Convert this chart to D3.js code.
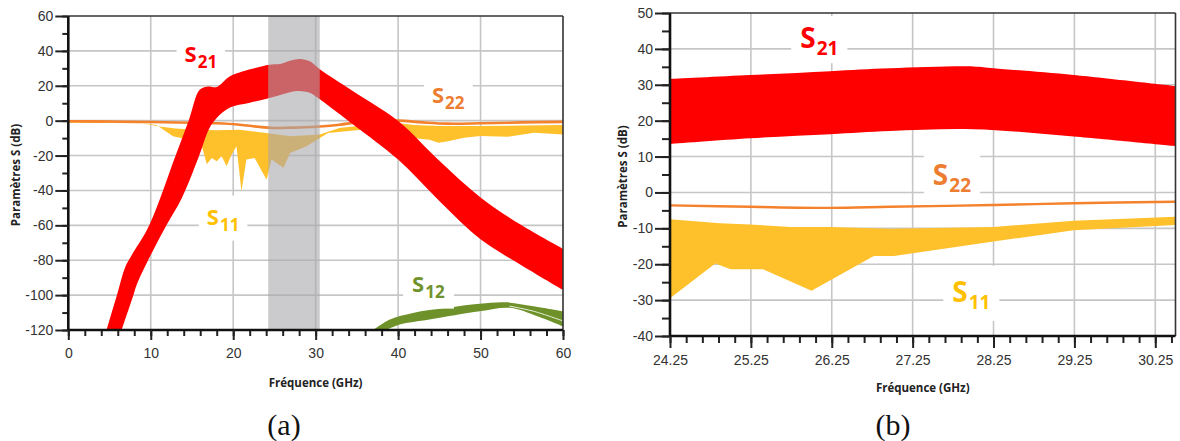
<!DOCTYPE html>
<html><head><meta charset="utf-8">
<script src="https://cdn.jsdelivr.net/npm/d3@7"></script>
<style>body{margin:0;background:#fff}svg{display:block}</style>
</head><body>
<svg id="c" width="1180" height="441"></svg>
<script>
// ---------- DATA : panel (a) ----------
const aXTicks = [0, 10, 20, 30, 40, 50, 60];
const aYTicks = [-120, -100, -80, -60, -40, -20, 0, 20, 40, 60];
const aBand = [24.25, 30.5];           // shaded band (GHz)
const aS21Upper = [[4.65,-120],[5.9,-100],[6.9,-84],[7.7,-77],[9.5,-63],[11.1,-45],[12.7,-24],[14.6,0],[15.96,17.8],[17,19.6],[18,19.3],[19.6,25.4],[21.2,28.3],[24.4,32.1],[25.7,32.5],[27,34.5],[28.1,35.4],[29.3,34],[30.5,29.5],[34.5,17],[40,-0.2],[45,-23],[50,-44],[55,-60],[60,-73.5]];
const aS21Lower = [[6.47,-120],[7.9,-100],[8.3,-94],[10,-77],[11.9,-60],[13.8,-44],[15.8,-21],[17.1,-4.5],[18,1.5],[19.6,7.5],[21.9,10.1],[24.4,13],[27,16.5],[28,17],[29.3,16],[30.5,12.3],[34.5,-2],[40,-22.3],[45,-46],[50,-68],[55,-83],[60,-97]];
const aS11Upper = [[0,-0.4],[8.7,-1.3],[11.1,-3.3],[13,-4.5],[15.6,-5.2],[18,-5.5],[20.8,-5.2],[24,-7],[26.9,-9],[28.5,-8.5],[30.5,-8],[32.9,-4.2],[35,-3],[38,-2],[40,-1.5],[42,-2.5],[45,-3],[50,-3],[55,-2.8],[60,-2.5]];
const aS11Lower = [[0,-1.2],[9,-1.5],[10.7,-2.5],[12.7,-9],[13.7,-10],[14.9,-14.5],[15.8,-17.6],[16.2,-14.7],[16.8,-25],[17.4,-21.4],[18,-23.3],[18.6,-20.4],[19.2,-26.2],[19.8,-19.5],[20.4,-14.7],[21,-40.5],[21.6,-22.3],[22.6,-21.4],[24.05,-33.8],[24.65,-22.3],[26.1,-27],[26.9,-18.5],[28.9,-14.7],[30.5,-9.9],[31.5,-7],[33.7,-6.1],[37.8,-4.2],[40,-6],[41.8,-9.9],[43.8,-10.9],[44.9,-12.7],[45.9,-12],[48,-9.8],[50,-8.8],[53.3,-9.2],[56.5,-6.9],[60,-7.9]];
const aS22 = [[0,-0.3],[5,-0.5],[10,-0.8],[15,-1.2],[18,-1.5],[20.8,-2.3],[23,-3.5],[25,-4.2],[27,-4],[28.5,-3.8],[30.5,-3.3],[32.9,-2.3],[35,-1],[38,-0.3],[40,0],[43,-1],[46,-1.7],[50,-1.5],[55,-1],[60,-0.7]];
const aS12Upper = [[37,-120],[39,-114],[41.8,-110.2],[45.9,-107.3],[49.9,-104.9],[53.1,-104.1],[56.4,-106.4],[60,-109.3]];
const aS12Lower = [[38.6,-120],[40.2,-116.9],[43.8,-114],[49.9,-109.3],[53.5,-107.3],[56.4,-111.2],[60,-117.9]];
const aS12Gap = [[53.5,-106.3],[56.4,-109.2],[60,-114.8]];

// ---------- DATA : panel (b) ----------
const bXTicks = [24.25, 25.25, 26.25, 27.25, 28.25, 29.25, 30.25];
const bYTicks = [-40, -30, -20, -10, 0, 10, 20, 30, 40, 50];
const bS21Upper = [[24.25,31.6],[25.24,32.7],[26.23,33.8],[26.97,34.6],[28.0,35.1],[28.25,34.6],[29.24,32.7],[30.5,29.6]];
const bS21Lower = [[24.25,13.5],[25.24,15.1],[26.23,16.2],[26.97,17.1],[28.0,17.6],[29.24,15.6],[30.5,12.9]];
const bS22 = [[24.25,-3.6],[25.24,-4],[26.23,-4.3],[26.97,-4],[28.25,-3.5],[29.24,-3.0],[30.5,-2.6]];
const bS11Upper = [[24.25,-7.5],[24.87,-8.6],[25.24,-8.9],[25.74,-9.6],[26.23,-9.6],[26.97,-10.1],[28.25,-9.6],[29.24,-7.9],[30.5,-6.8]];
const bS11Lower = [[24.25,-29.5],[24.81,-19.8],[25.0,-21.4],[25.4,-21.4],[26.0,-27.4],[26.77,-17.7],[27.02,-17.7],[28.25,-13.7],[29.24,-10.5],[30.5,-9.1]];

// ---------- STYLE ----------
const RED = '#ff0000', YEL = '#ffc12b', ORA = '#f4822c', GRN = '#6e9229';
const LBL_RED = '#ff0000', LBL_ORA = '#ed7d31', LBL_YEL = '#ffc000', LBL_GRN = '#70922e';
const GRID = '#c6c6c6';
const svg = d3.select('#c');

function range(a, b, s){ const r=[]; for(let v=a; v<=b+1e-9; v+=s) r.push(+v.toFixed(4)); return r; }

function panel(o){
  const g = svg.append('g');
  const x = d3.scaleLinear().domain(o.xDom).range([o.left, o.right]);
  const y = d3.scaleLinear().domain(o.yDom).range([o.bottom, o.top]);
  const id = 'clip' + o.name;
  svg.append('defs').append('clipPath').attr('id', id).append('rect')
    .attr('x', o.left).attr('y', o.top).attr('width', o.right-o.left).attr('height', o.bottom-o.top);

  const grid = g.append('g').attr('stroke', GRID).attr('stroke-width', 1.6);
  o.xTicks.filter(v => x(v) > o.left+2 && x(v) < o.right-2).forEach(v =>
    grid.append('line').attr('x1', x(v)).attr('x2', x(v)).attr('y1', o.top).attr('y2', o.bottom));
  o.yTicks.filter(v => y(v) > o.top+2 && y(v) < o.bottom-2).forEach(v =>
    grid.append('line').attr('y1', y(v)).attr('y2', y(v)).attr('x1', o.left).attr('x2', o.right));

  const data = g.append('g').attr('clip-path', `url(#${id})`);
  const mk = c => d3.line().x(d => x(d[0])).y(d => y(d[1])).curve(c);
  const band = (up, lo, c) => { const l = mk(c); return l(up) + 'L' + l(lo.slice().reverse()).slice(1) + 'Z'; };
  const smooth = d3.curveCatmullRom.alpha(0.5);
  return {g, x, y, data, band, mk, smooth};
}

function axes(p, o){
  const {g, x, y} = p;
  const fmt = o.fmt;
  g.append('line').attr('x1', o.left).attr('x2', o.right).attr('y1', o.top).attr('y2', o.top).attr('stroke', '#333').attr('stroke-width', 1.6);
  g.append('line').attr('x1', o.right).attr('x2', o.right).attr('y1', o.top).attr('y2', o.bottom).attr('stroke', '#333').attr('stroke-width', 1.6);
  const xm = g.append('g').attr('transform', `translate(0,${o.bottom})`)
    .call(d3.axisBottom(x).tickValues(o.xMinor).tickSize(o.xMinorLen).tickFormat(''));
  const ym = g.append('g').attr('transform', `translate(${o.left},0)`)
    .call(d3.axisLeft(y).tickValues(o.yMinor).tickSize(o.yMinorLen).tickFormat(''));
  const xa = g.append('g').attr('transform', `translate(0,${o.bottom})`)
    .call(d3.axisBottom(x).tickValues(o.xTicks).tickSize(o.xMajorLen).tickPadding(o.xPad).tickFormat(fmt.x));
  const ya = g.append('g').attr('transform', `translate(${o.left},0)`)
    .call(d3.axisLeft(y).tickValues(o.yTicks).tickSize(o.yMajorLen).tickPadding(2).tickFormat(fmt.y));
  [xm, ym, xa, ya].forEach(a => {
    a.selectAll('.tick line').attr('stroke', '#222').attr('stroke-width', 2);
    a.select('.domain').attr('stroke', '#111').attr('stroke-width', 2.6);
    a.selectAll('text').attr('font-family', 'Liberation Sans, Arial, sans-serif').attr('font-size', 14).attr('fill', '#333');
  });
  xm.select('.domain').remove(); ym.select('.domain').remove();
  xa.select('.domain').attr('d', `M${o.left},0H${o.right}`);
  ya.select('.domain').attr('d', `M0,${o.bottom}V${o.top}`);
}

function label(p, gx, gy, sub, color, sSize, subSize, dy, padX, padY){
  const layer = p.g.append('g');
  const t = layer.append('text').attr('x', p.x(gx)).attr('y', p.y(gy))
    .attr('font-family', 'Open Sans, Lato, sans-serif').attr('font-weight', 700).attr('fill', color);
  t.append('tspan').attr('font-size', sSize).text('S');
  t.append('tspan').attr('font-size', subSize).attr('dy', dy).attr('dx', 1).text(sub);
  const bb = t.node().getBBox();
  layer.insert('rect', 'text').attr('x', bb.x - padX).attr('y', bb.y - padY)
    .attr('width', bb.width + 2*padX).attr('height', bb.height + 2*padY).attr('fill', '#fff');
}

function titles(o){
  svg.append('text').attr('x', (o.left+o.right)/2).attr('y', o.xTitleY).attr('text-anchor', 'middle')
    .attr('font-family', 'Open Sans, sans-serif').attr('font-weight', 700).attr('font-size', 11.5).attr('fill', '#222')
    .text('Fréquence (GHz)');
  svg.append('text').attr('transform', `translate(${o.yTitleX},${(o.top+o.bottom)/2+2}) rotate(-90)`).attr('text-anchor', 'middle')
    .attr('font-family', 'Open Sans, sans-serif').attr('font-weight', 700).attr('font-size', 11.5).attr('fill', '#222')
    .text('Paramètres S (dB)');
  svg.append('text').attr('x', o.capX).attr('y', 435).attr('text-anchor', 'middle')
    .attr('font-family', 'Liberation Serif, Times New Roman, serif').attr('font-size', 30).attr('fill', '#111')
    .text(o.cap);
}

// ---------- PANEL (a) ----------
const oa = {name:'a', left:68.3, right:563, top:16, bottom:330, xDom:[0,60], yDom:[-120,60],
  xTicks:aXTicks, yTicks:aYTicks, xMinor:range(0,60,2), yMinor:range(-120,60,10),
  xMajorLen:10, xMinorLen:6, yMajorLen:13, yMinorLen:6, xPad:8,
  fmt:{x:d=>String(d), y:d=>String(d)}, xTitleY:387, yTitleX:20, capX:284, cap:'(a)'};
const pa = panel(oa);
pa.data.append('path').attr('d', pa.band(aS11Upper, aS11Lower, d3.curveLinear)).attr('fill', YEL);
pa.data.append('path').attr('d', pa.mk(pa.smooth)(aS22)).attr('fill', 'none').attr('stroke', ORA).attr('stroke-width', 2.6);
pa.data.append('path').attr('d', pa.band(aS21Upper, aS21Lower, pa.smooth)).attr('fill', RED);
pa.data.append('path').attr('d', pa.band(aS12Upper, aS12Lower, pa.smooth)).attr('fill', GRN);
pa.data.append('path').attr('d', pa.mk(pa.smooth)(aS12Gap)).attr('fill', 'none').attr('stroke', '#e6eedb').attr('stroke-width', 1);
pa.g.append('rect').attr('x', pa.x(aBand[0])).attr('y', oa.top).attr('width', pa.x(aBand[1]) - pa.x(aBand[0]))
  .attr('height', oa.bottom - oa.top).attr('fill', '#a8a6aa').attr('fill-opacity', 0.6);
label(pa, 14.1, 33.8, '21', LBL_RED, 22, 17, 6, 8, 5);
label(pa, 44.1, 10.3, '22', LBL_ORA, 22, 17, 6, 8, 5);
label(pa, 16.8, -59.6, '11', LBL_YEL, 22, 17, 6, 8, 5);
label(pa, 41.7, -98, '12', LBL_GRN, 22, 17, 6, 9, 6);
axes(pa, oa);
titles(oa);

// ---------- PANEL (b) ----------
const ob = {name:'b', left:670, right:1175.5, top:13, bottom:336, xDom:[24.25,30.5], yDom:[-40,50],
  xTicks:bXTicks, yTicks:bYTicks, xMinor:range(24.25,30.45,0.2), yMinor:range(-40,50,5),
  xMajorLen:12, xMinorLen:7, yMajorLen:15, yMinorLen:8, xPad:7,
  fmt:{x:d3.format('.2f'), y:d=>String(d)}, xTitleY:392, yTitleX:627, capX:893, cap:'(b)'};
const pb = panel(ob);
pb.data.append('path').attr('d', pb.band(bS21Upper, bS21Lower, pb.smooth)).attr('fill', RED);
pb.data.append('path').attr('d', pb.band(bS11Upper, bS11Lower, d3.curveLinear)).attr('fill', YEL);
pb.data.append('path').attr('d', pb.mk(pb.smooth)(bS22)).attr('fill', 'none').attr('stroke', ORA).attr('stroke-width', 2.4);
label(pb, 25.86, 40.2, '21', LBL_RED, 28, 19, 7, 9, 2);
label(pb, 27.5, 2.1, '22', LBL_ORA, 28, 19, 7, 9, 5);
label(pb, 27.74, -30.5, '11', LBL_YEL, 28, 19, 7, 9, 6);
axes(pb, ob);
titles(ob);
</script>
</body></html>
